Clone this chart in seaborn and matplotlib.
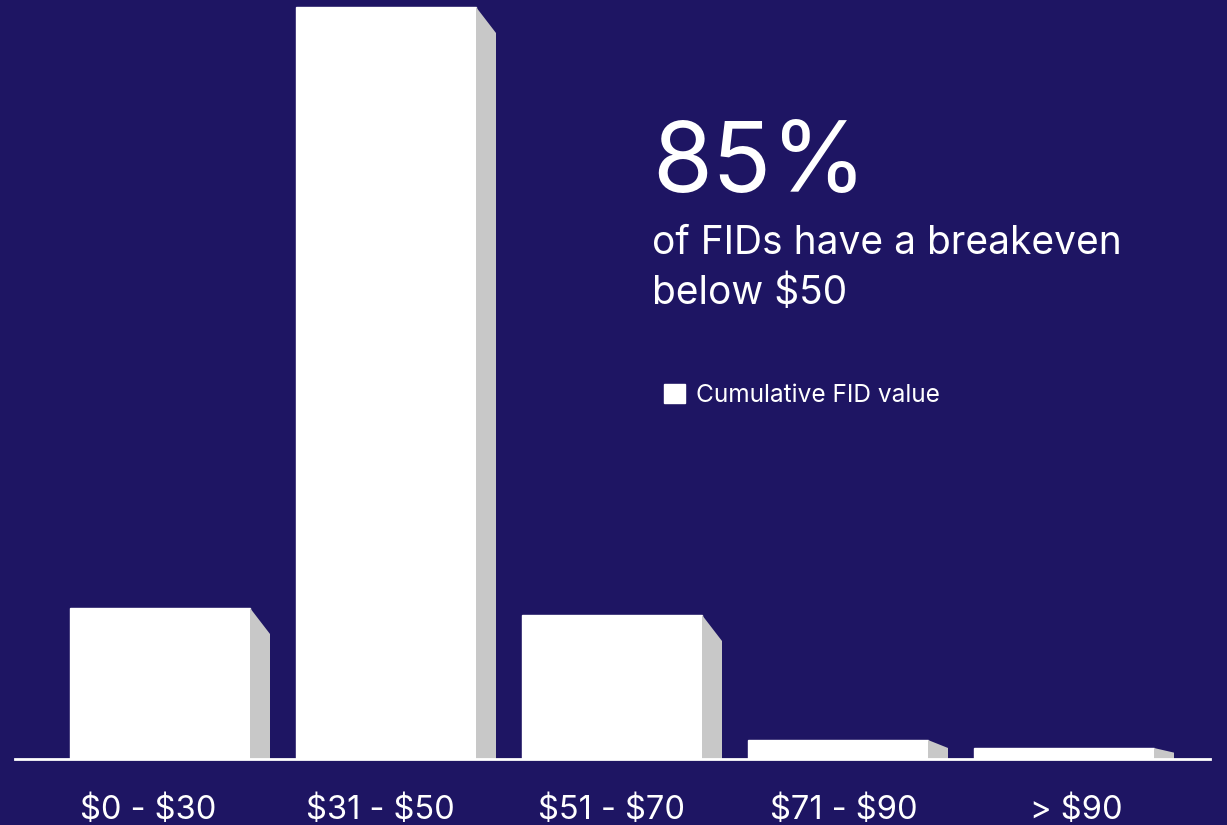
import matplotlib
matplotlib.use("Agg")
import matplotlib.pyplot as plt
import seaborn as sns
import pandas as pd
from matplotlib.patches import Polygon

categories = ["$0 - $30", "$31 - $50", "$51 - $70", "$71 - $90", "> $90"]
values = [15.1, 75.2, 14.4, 1.9, 1.1]
headline = "85%"
subtitle_lines = ["of FIDs have a breakeven", "below $50"]
series_name = "Cumulative FID value"

BG = "#1E1563"
SIDE = "#C8C8C8"
FONT = ["Inter", "DejaVu Sans"]

sns.set_theme(style="white")
plt.rcParams["font.family"] = FONT
plt.rcParams["text.parse_math"] = False

W, H = 1227, 825
fig = plt.figure(figsize=(W / 100, H / 100), dpi=100, facecolor=BG)
ax = fig.add_axes([15 / W, 66 / H, (1210 - 15) / W, (H - 66) / H])
ax.set_facecolor(BG)

df = pd.DataFrame({"cat": categories, "val": values})
bar_w = 180 / 226
sns.barplot(data=df, x="cat", y="val", color="white", saturation=1,
            width=bar_w, ax=ax, label=series_name, zorder=2)

# 3D side faces
side_w = 20 / 226
for i, v in enumerate(values):
    right = i + bar_w / 2
    drop = min(2.6, 0.42 * v)
    poly = Polygon([(right, v), (right + side_w, v - drop), (right + side_w, 0), (right, 0)],
                   closed=True, facecolor=SIDE, edgecolor="none", zorder=2)
    ax.add_patch(poly)

ax.set_xlim((15 - 160) / 226, (1210 - 160) / 226)
ax.set_ylim(0, 75.9)

for s in ["top", "right", "left"]:
    ax.spines[s].set_visible(False)
ax.spines["bottom"].set_color("white")
ax.spines["bottom"].set_linewidth(2)
ax.spines["bottom"].set_zorder(3)

n = len(categories)
ax.set_xticks([i + (i - 2) * 0.027 for i in range(n)])
ax.set_xticklabels(categories, color="white", fontsize=23.5, fontweight="normal")
ax.tick_params(axis="x", length=0, pad=26)
ax.set_yticks([])
ax.set_xlabel("")
ax.set_ylabel("")

fig.text(652 / W, 1 - 192 / H, headline, color="white", fontsize=70,
         fontweight="normal", ha="left", va="baseline")
fig.text(652 / W, 1 - 254 / H, subtitle_lines[0], color="white", fontsize=28,
         fontweight="normal", ha="left", va="baseline")
fig.text(652 / W, 1 - 304 / H, subtitle_lines[1], color="white", fontsize=28,
         fontweight="normal", ha="left", va="baseline")

leg = ax.legend(loc="upper left", bbox_to_anchor=(642 / W, 1 - 362 / H),
                bbox_transform=fig.transFigure, frameon=False,
                handlelength=0.85, handleheight=0.85, handletextpad=0.45,
                prop={"size": 17.6, "weight": "normal"})
for t in leg.get_texts():
    t.set_color("white")

fig.savefig("out.png", dpi=100, facecolor=BG)
